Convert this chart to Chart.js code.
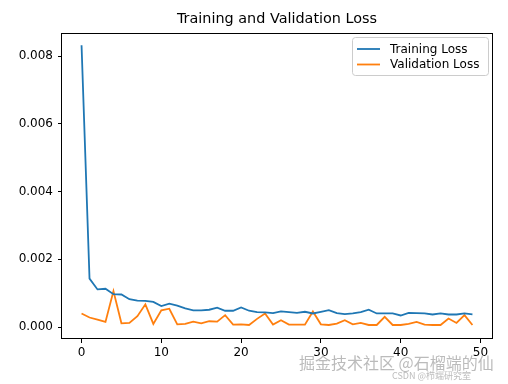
<!DOCTYPE html>
<html>
<head>
<meta charset="utf-8">
<title>Training and Validation Loss</title>
<script src="https://cdn.jsdelivr.net/npm/chart.js@4/dist/chart.umd.min.js"></script>
<style>
    html, body { margin: 0; padding: 0; background: #fff; }
    #wrap { position: relative; width: 508px; height: 384px; }
    .mark { position: absolute; font-family: "Noto Sans CJK SC", sans-serif; color: rgba(120, 120, 120, 0.5); white-space: nowrap; }
</style>
</head>
<body>
<div id="wrap">
    <canvas id="chart" width="508" height="384"></canvas>
    <div class="mark" style="left:299px; top:350px; font-size:16px;">掘金技术社区 @石榴端的仙</div>
    <div class="mark" style="left:392px; top:369px; font-size:9px;">CSDN @栉端研究室</div>
</div>
<script>
const epochs = Array.from({length: 50}, (_, i) => i)

const trainLoss = [
    0.00832, 0.00143, 0.00111, 0.00113, 0.00097, 0.00096, 0.00082, 0.00078, 0.00077, 0.00074,
    0.00062, 0.00069, 0.00063, 0.00055, 0.00049, 0.00049, 0.00051, 0.00057, 0.00048, 0.00048,
    0.00058, 0.00048, 0.00044, 0.00043, 0.00041, 0.00046, 0.00044, 0.00042, 0.00045, 0.00040,
    0.00045, 0.00050, 0.00041, 0.00038, 0.00040, 0.00044, 0.00051, 0.00040, 0.00040, 0.00040,
    0.00034, 0.00042, 0.00041, 0.00040, 0.00037, 0.00040, 0.00037, 0.00037, 0.00040, 0.00037
]

const valLoss = [
    0.00040, 0.00028, 0.00022, 0.00015, 0.00106, 0.00011, 0.00012, 0.00032, 0.00067, 0.00009,
    0.00049, 0.00054, 0.00008, 0.00009, 0.00016, 0.00011, 0.00017, 0.00016, 0.00035, 0.00007,
    0.00008, 0.00006, 0.00024, 0.00040, 0.00007, 0.00020, 0.00007, 0.00007, 0.00007, 0.00046,
    0.00008, 0.00006, 0.00010, 0.00020, 0.00008, 0.00012, 0.00006, 0.00006, 0.00030, 0.00006,
    0.00006, 0.00009, 0.00015, 0.00007, 0.00006, 0.00006, 0.00025, 0.00012, 0.00035, 0.00006
]

const xTicks = [0, 10, 20, 30, 40, 50]
const yTicks = [0, 0.002, 0.004, 0.006, 0.008]

const titleText = 'Training and Validation Loss'
const font      = 'DejaVu Sans'

// matplotlib-like frame round the plot area
const framePlugin = {
    id: 'frame',
    afterDatasetsDraw(chart) {
        const {ctx, chartArea: a} = chart
        ctx.save()
        ctx.strokeStyle = '#000'
        ctx.lineWidth   = 1
        ctx.strokeRect(Math.round(a.left) - 0.5, Math.round(a.top) + 0.5,
            Math.round(a.right - a.left) + 1, Math.round(a.bottom - a.top) - 1)
        ctx.restore()
    }
}

// title centred over the plot area, legend box in the upper right corner
const textPlugin = {
    id: 'texts',
    afterDraw(chart) {
        const {ctx, chartArea: a} = chart
        ctx.save()
        ctx.fillStyle    = '#000'
        ctx.textAlign    = 'center'
        ctx.textBaseline = 'middle'
        ctx.font         = `14.4px "${font}"`
        ctx.fillText(titleText, (a.left + a.right) / 2, 19)

        const boxX = 352, boxY = 37.5, boxW = 136, boxH = 38
        ctx.beginPath()
        ctx.roundRect(boxX + 0.5, boxY, boxW, boxH, 3)
        ctx.fillStyle   = 'rgba(255,255,255,0.8)'
        ctx.fill()
        ctx.strokeStyle = '#cccccc'
        ctx.lineWidth   = 1
        ctx.stroke()

        ctx.font         = `12px "${font}"`
        ctx.textAlign    = 'left'
        chart.data.datasets.forEach((ds, i) => {
            const y = 49 + i * 15.5
            ctx.beginPath()
            ctx.moveTo(357, y)
            ctx.lineTo(380, y)
            ctx.strokeStyle = ds.borderColor
            ctx.lineWidth   = 1.8
            ctx.stroke()
            ctx.fillStyle = '#000'
            ctx.fillText(ds.label, 390, y + 0.5)
        })
        ctx.restore()
    }
}

const tickFont = {family: font, size: 12}

new Chart(document.getElementById('chart'), {
    type   : 'line',
    data   : {
        datasets: [
            {
                label      : 'Training Loss',
                data       : epochs.map((e, i) => ({x: e, y: trainLoss[i]})),
                borderColor: '#1f77b4',
                borderWidth: 1.8,
                pointRadius: 0,
                tension    : 0,
            },
            {
                label      : 'Validation Loss',
                data       : epochs.map((e, i) => ({x: e, y: valLoss[i]})),
                borderColor: '#ff7f0e',
                borderWidth: 1.8,
                pointRadius: 0,
                tension    : 0,
            }
        ]
    },
    options: {
        responsive      : false,
        animation       : false,
        devicePixelRatio: 1,
        layout          : {padding: {top: 33, right: 16, left: 0, bottom: 0}},
        plugins         : {
            legend : {display: false},
            title  : {display: false},
            tooltip: {enabled: false},
        },
        scales          : {
            x: {
                type           : 'linear',
                min            : -2.45,
                max            : 51.45,
                afterBuildTicks: s => { s.ticks = xTicks.map(v => ({value: v})) },
                afterFit       : s => { s.height = 45 },
                grid           : {drawOnChartArea: false, drawTicks: true, tickLength: 4, tickColor: '#000'},
                border         : {display: false},
                ticks          : {font: tickFont, color: '#000', padding: 3, maxRotation: 0, autoSkip: false},
            },
            y: {
                type           : 'linear',
                min            : -0.000354,
                max            : 0.00868,
                afterBuildTicks: s => { s.ticks = yTicks.map(v => ({value: v})) },
                afterFit       : s => { s.width = 62 },
                grid           : {drawOnChartArea: false, drawTicks: true, tickLength: 4, tickColor: '#000'},
                border         : {display: false},
                ticks          : {font: tickFont, color: '#000', padding: 5, callback: v => v.toFixed(3)},
            }
        }
    },
    plugins: [framePlugin, textPlugin]
})
</script>
</body>
</html>
